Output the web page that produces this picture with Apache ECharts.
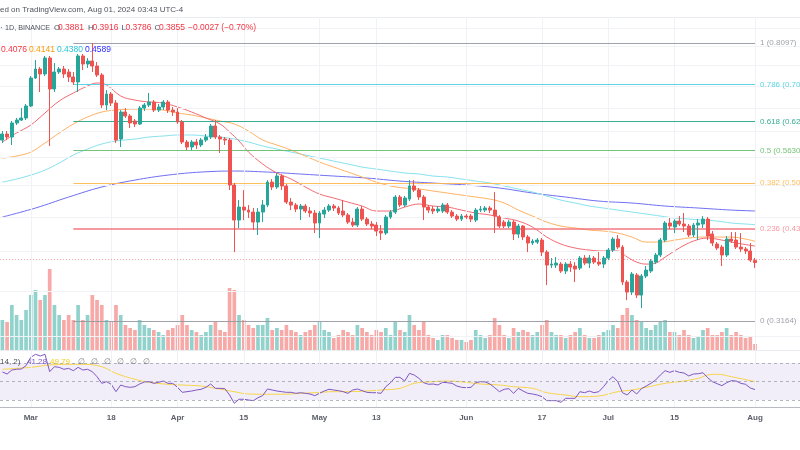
<!DOCTYPE html>
<html><head><meta charset="utf-8">
<script src="https://cdn.jsdelivr.net/npm/echarts@6/dist/echarts.min.js"></script>
<style>html,body{margin:0;padding:0;background:#fff}#c{width:800px;height:450px}</style>
</head><body><div id="c"></div>
<script>
// ---------- categories (daily, Feb 24 2024 .. Aug 10 2024) ----------
const startDate = Date.UTC(2024, 1, 24);
const nCats = 169;
const categories = [];
for (let i = 0; i < nCats; i++) categories.push(new Date(startDate + i * 86400000).toISOString().slice(0, 10));

const tickLabels = {'2024-03-01':'Mar','2024-03-18':'18','2024-04-01':'Apr','2024-04-15':'15','2024-05-01':'May','2024-05-13':'13','2024-06-01':'Jun','2024-06-17':'17','2024-07-01':'Jul','2024-07-15':'15','2024-08-01':'Aug'};

// ---------- OHLC [open, close, low, high] ----------
const ohlc = [
[0.5832,0.5952,0.5774,0.6012],[0.5952,0.5892,0.5832,0.6012],[0.5892,0.6178,0.5735,0.6219],[0.6178,0.6240,0.6136,0.6283],[0.6240,0.6283,0.6219,0.6498],
[0.6283,0.6543,0.6240,0.6587],[0.6543,0.7192,0.6521,0.7241],[0.7192,0.7414,0.7168,0.7642],[0.7414,0.7291,0.6860,0.7465],[0.7291,0.7695,0.7241,0.7748],
[0.7695,0.6930,0.5716,0.7748],[0.6930,0.7340,0.6860,0.7566],[0.7340,0.7414,0.7291,0.7465],[0.7414,0.7291,0.7192,0.7490],[0.7340,0.7217,0.7096,0.7414],
[0.7217,0.7096,0.7025,0.7340],[0.7096,0.7748,0.6860,0.7801],[0.7748,0.7541,0.7389,0.7801],[0.7541,0.7617,0.7440,0.7695],[0.7617,0.7490,0.7340,0.8097],
[0.7490,0.7266,0.7217,0.7591],[0.7266,0.6565,0.6498,0.7315],[0.6565,0.6814,0.6454,0.6906],[0.6814,0.6609,0.6543,0.6860],[0.6609,0.5832,0.5774,0.6676],
[0.5852,0.6411,0.5696,0.6454],[0.6411,0.6326,0.6283,0.6498],[0.6326,0.6178,0.6074,0.6368],[0.6219,0.6157,0.6094,0.6261],[0.6157,0.6498,0.6136,0.6543],
[0.6498,0.6565,0.6433,0.6609],[0.6565,0.6632,0.6521,0.6837],[0.6632,0.6454,0.6411,0.6676],[0.6454,0.6521,0.6411,0.6587],[0.6521,0.6632,0.6454,0.6676],
[0.6632,0.6454,0.6390,0.6676],[0.6454,0.6411,0.6326,0.6521],[0.6411,0.6198,0.6157,0.6498],[0.6198,0.5793,0.5754,0.6240],[0.5793,0.5696,0.5638,0.5832],
[0.5696,0.5793,0.5638,0.5832],[0.5793,0.5735,0.5657,0.5852],[0.5735,0.5832,0.5696,0.5872],[0.5832,0.5892,0.5793,0.5952],[0.5892,0.6115,0.5852,0.6157],
[0.6115,0.5892,0.5852,0.6240],[0.5892,0.5852,0.5582,0.5932],[0.5852,0.5832,0.5735,0.5892],[0.5832,0.5010,0.4925,0.5872],[0.5010,0.4450,0.3994,0.5043],
[0.4450,0.4650,0.4332,0.4761],[0.4650,0.4603,0.4450,0.4925],[0.4603,0.4572,0.4481,0.4682],[0.4572,0.4420,0.4302,0.4635],[0.4420,0.4572,0.4231,0.4635],
[0.4572,0.4682,0.4420,0.4761],[0.4682,0.5060,0.4650,0.5094],[0.5060,0.4976,0.4925,0.5112],[0.4976,0.5164,0.4942,0.5217],[0.5164,0.4993,0.4925,0.5199],
[0.4993,0.4729,0.4698,0.5026],[0.4729,0.4682,0.4603,0.4794],[0.4682,0.4619,0.4572,0.4714],[0.4619,0.4666,0.4450,0.4698],[0.4666,0.4588,0.4557,0.4698],
[0.4588,0.4557,0.4496,0.4650],[0.4557,0.4406,0.4259,0.4603],[0.4406,0.4557,0.4188,0.4588],[0.4542,0.4603,0.4481,0.4650],[0.4603,0.4666,0.4572,0.4698],
[0.4666,0.4635,0.4588,0.4698],[0.4635,0.4557,0.4527,0.4666],[0.4588,0.4527,0.4496,0.4761],[0.4527,0.4420,0.4391,0.4557],[0.4420,0.4376,0.4346,0.4481],
[0.4376,0.4619,0.4346,0.4650],[0.4619,0.4465,0.4435,0.4666],[0.4465,0.4391,0.4361,0.4496],[0.4391,0.4361,0.4317,0.4435],[0.4376,0.4288,0.4216,0.4420],
[0.4288,0.4259,0.4159,0.4376],[0.4259,0.4496,0.4231,0.4527],[0.4496,0.4572,0.4465,0.4603],[0.4572,0.4810,0.4542,0.4843],[0.4810,0.4682,0.4650,0.4843],
[0.4682,0.4794,0.4650,0.4827],[0.4777,0.4993,0.4745,0.5094],[0.4993,0.4925,0.4892,0.5094],[0.4925,0.4810,0.4761,0.4959],[0.4810,0.4650,0.4450,0.4843],
[0.4650,0.4603,0.4557,0.4682],[0.4619,0.4588,0.4542,0.4666],[0.4588,0.4619,0.4557,0.4666],[0.4588,0.4682,0.4557,0.4714],[0.4682,0.4572,0.4542,0.4714],
[0.4572,0.4511,0.4481,0.4603],[0.4511,0.4465,0.4435,0.4542],[0.4465,0.4511,0.4435,0.4542],[0.4511,0.4496,0.4465,0.4542],[0.4511,0.4465,0.4420,0.4542],
[0.4450,0.4603,0.4420,0.4635],[0.4603,0.4619,0.4572,0.4666],[0.4603,0.4635,0.4572,0.4666],[0.4635,0.4603,0.4557,0.4666],[0.4603,0.4511,0.4259,0.4892],
[0.4496,0.4361,0.4332,0.4527],[0.4420,0.4361,0.4332,0.4450],[0.4361,0.4420,0.4332,0.4450],[0.4420,0.4245,0.4159,0.4450],[0.4245,0.4361,0.4188,0.4391],
[0.4361,0.4202,0.4159,0.4376],[0.4202,0.4118,0.3994,0.4231],[0.4118,0.4145,0.4090,0.4173],[0.4131,0.4159,0.4104,0.4188],[0.4159,0.3994,0.3941,0.4188],
[0.3994,0.3822,0.3572,0.4021],[0.3822,0.3835,0.3784,0.3914],[0.3822,0.3848,0.3784,0.3927],[0.3835,0.3746,0.3721,0.3861],[0.3746,0.3835,0.3708,0.3861],
[0.3835,0.3796,0.3733,0.3874],[0.3810,0.3771,0.3609,0.3861],[0.3784,0.3914,0.3758,0.3941],[0.3914,0.3848,0.3822,0.3954],[0.3848,0.3914,0.3784,0.3954],
[0.3914,0.3861,0.3835,0.3941],[0.3861,0.3835,0.3810,0.3994],[0.3835,0.3914,0.3784,0.3941],[0.3914,0.4021,0.3887,0.4049],[0.4021,0.4173,0.3994,0.4202],
[0.4173,0.4062,0.4035,0.4231],[0.4062,0.3609,0.3572,0.4090],[0.3609,0.3489,0.3395,0.3633],[0.3489,0.3708,0.3454,0.3733],[0.3696,0.3454,0.3418,0.3721],
[0.3454,0.3683,0.3305,0.3708],[0.3683,0.3758,0.3658,0.3810],[0.3746,0.3874,0.3721,0.3900],[0.3861,0.3954,0.3835,0.3981],[0.3954,0.4159,0.3927,0.4188],
[0.4159,0.4406,0.4131,0.4435],[0.4406,0.4361,0.4317,0.4481],[0.4346,0.4435,0.4259,0.4465],[0.4435,0.4391,0.4361,0.4511],[0.4391,0.4361,0.4273,0.4557],
[0.4361,0.4231,0.4202,0.4391],[0.4231,0.4376,0.4202,0.4406],[0.4376,0.4406,0.4159,0.4465],[0.4391,0.4465,0.4332,0.4511],[0.4465,0.4216,0.4159,0.4496],
[0.4245,0.4118,0.4076,0.4288],[0.4104,0.4049,0.4021,0.4131],[0.4062,0.3954,0.3810,0.4090],[0.3954,0.4173,0.3927,0.4216],[0.4173,0.4145,0.4118,0.4273],
[0.4159,0.4062,0.4035,0.4273],[0.4062,0.4035,0.3994,0.4259],[0.4035,0.4008,0.3968,0.4062],[0.4008,0.3887,0.3861,0.4118],[0.3881,0.3855,0.3786,0.3916]
];

// ---------- volume (millions) ----------
const volumes = [
600,560,900,700,600,800,1100,1200,1000,1100,
1620,900,700,600,700,600,900,600,700,1100,
1000,900,600,560,900,700,500,440,400,600,
500,440,400,360,300,400,440,500,700,500,
400,360,300,360,500,560,400,360,1240,1200,
700,600,500,440,500,500,640,400,440,400,
500,400,360,300,360,400,500,560,400,360,
240,300,400,360,300,500,440,360,300,400,
360,440,300,560,400,360,700,500,400,560,
300,240,200,300,300,240,200,200,160,200,
400,300,240,300,640,500,300,240,440,360,
400,360,300,360,500,600,360,300,300,240,
300,360,440,300,240,240,300,360,400,500,
440,700,840,700,600,560,440,400,500,560,
600,360,360,300,400,300,240,280,400,440,
300,300,360,440,300,360,300,240,280,120
];

// ---------- moving averages [candle index, value] ----------
const maRed = [[0,0.5793],[3,0.5972],[6,0.6136],[9,0.6390],[12,0.6654],[15,0.6837],[18,0.7001],[20,0.7072],[22,0.7025],[25,0.6768],[28,0.6676],[31,0.6632],[34,0.6609],[37,0.6521],[40,0.6411],[43,0.6283],[46,0.6157],[48,0.5992],[50,0.5813],[52,0.5600],[55,0.5378],[58,0.5217],[61,0.5112],[64,0.4976],[67,0.4859],[70,0.4794],[73,0.4729],[76,0.4666],[79,0.4588],[82,0.4588],[85,0.4650],[88,0.4698],[91,0.4666],[94,0.4650],[97,0.4603],[100,0.4557],[103,0.4527],[106,0.4481],[109,0.4435],[112,0.4346],[115,0.4202],[118,0.4104],[121,0.4049],[124,0.4021],[127,0.4008],[130,0.4008],[132,0.3927],[134,0.3861],[136,0.3835],[138,0.3848],[140,0.3927],[143,0.4049],[146,0.4145],[149,0.4188],[152,0.4159],[155,0.4118],[159,0.4076]];
const maOrange = [[0,0.5488],[3,0.5525],[6,0.5600],[9,0.5774],[12,0.5972],[15,0.6157],[18,0.6304],[21,0.6411],[24,0.6454],[28,0.6476],[31,0.6476],[34,0.6454],[37,0.6390],[40,0.6347],[43,0.6283],[46,0.6219],[49,0.6157],[52,0.6012],[55,0.5832],[58,0.5735],[61,0.5638],[64,0.5525],[67,0.5414],[70,0.5323],[73,0.5234],[76,0.5147],[79,0.5060],[82,0.4993],[85,0.4959],[88,0.4942],[91,0.4909],[94,0.4876],[97,0.4843],[100,0.4810],[103,0.4777],[106,0.4714],[109,0.4603],[112,0.4511],[115,0.4420],[118,0.4361],[121,0.4332],[124,0.4302],[127,0.4288],[130,0.4259],[133,0.4202],[136,0.4131],[139,0.4131],[142,0.4159],[145,0.4188],[148,0.4202],[151,0.4202],[154,0.4202],[157,0.4173],[159,0.4141]];
const maCyan = [[0,0.5060],[3,0.5112],[6,0.5181],[9,0.5269],[12,0.5396],[15,0.5544],[18,0.5657],[21,0.5754],[24,0.5813],[28,0.5852],[31,0.5892],[34,0.5912],[37,0.5932],[40,0.5932],[43,0.5912],[46,0.5892],[49,0.5852],[52,0.5793],[55,0.5716],[58,0.5657],[61,0.5600],[64,0.5544],[67,0.5488],[70,0.5432],[73,0.5378],[76,0.5323],[79,0.5287],[82,0.5252],[85,0.5217],[88,0.5199],[91,0.5164],[94,0.5147],[97,0.5112],[100,0.5077],[103,0.5043],[106,0.4993],[109,0.4942],[112,0.4892],[115,0.4827],[118,0.4761],[121,0.4714],[124,0.4666],[127,0.4635],[130,0.4603],[133,0.4572],[136,0.4542],[139,0.4511],[142,0.4481],[145,0.4465],[148,0.4450],[151,0.4435],[154,0.4406],[157,0.4391],[159,0.4380]];
const maBlue = [[0,0.4496],[7,0.4635],[14,0.4810],[21,0.4976],[28,0.5094],[35,0.5181],[42,0.5234],[49,0.5252],[56,0.5234],[63,0.5199],[70,0.5164],[77,0.5129],[84,0.5077],[91,0.5043],[98,0.5010],[105,0.4959],[112,0.4876],[119,0.4810],[126,0.4745],[133,0.4714],[140,0.4666],[147,0.4635],[154,0.4603],[159,0.4589]];

// ---------- RSI ----------
const rsiVals = [
60.3,58.1,62.4,63.2,63.5,67.1,76.1,79.4,77.6,79.4,
60.6,66.0,65.3,63.2,64.2,61.7,65.3,62.4,63.2,60.6,
55.2,48.0,49.8,47.0,39.0,46.2,44.4,43.7,44.4,47.3,
49.5,49.8,48.0,49.1,50.5,48.0,48.0,43.7,38.3,39.0,
39.7,40.8,41.6,43.7,47.3,42.6,42.6,42.2,35.4,26.4,
30.8,30.8,30.0,29.3,32.5,34.7,41.9,40.8,39.7,39.0,
38.3,38.3,37.2,37.9,37.2,36.5,34.7,37.2,39.7,41.6,
40.8,40.1,39.0,37.2,40.8,41.9,40.1,38.3,37.9,37.9,
37.2,44.4,48.7,54.5,54.5,50.5,58.8,57.0,53.4,48.7,
47.0,47.3,46.2,49.1,48.7,48.0,45.1,43.7,43.3,43.7,
48.7,49.8,49.5,47.3,43.3,39.0,41.6,42.2,37.2,42.6,
39.7,37.2,36.5,35.4,33.6,29.3,29.3,29.3,27.5,31.8,
31.8,31.8,39.0,37.9,39.7,37.9,39.0,44.4,50.9,55.2,
49.8,37.9,35.4,40.8,36.5,42.2,45.1,48.0,51.6,57.0,
61.7,59.9,61.7,59.9,59.2,56.0,58.1,58.4,59.5,54.1,
49.8,47.6,45.5,48.7,50.9,50.5,48.0,47.0,43.0,41.28
];
const rsiMa = [[0,63.2],[6,65.3],[10,67.8],[14,68.6],[17,68.6],[21,66.0],[24,58.8],[28,52.4],[31,49.1],[35,47.0],[38,46.2],[42,45.1],[45,42.6],[49,39.0],[52,36.5],[56,36.2],[59,36.2],[63,37.2],[66,37.9],[70,39.0],[73,39.0],[77,39.7],[80,40.8],[84,42.6],[87,48.0],[91,49.8],[94,50.5],[98,49.1],[101,47.3],[105,46.2],[108,44.4],[112,42.6],[115,37.9],[119,35.4],[122,33.6],[126,34.3],[130,39.0],[133,40.8],[136,43.7],[140,48.0],[143,49.8],[147,53.4],[149,57.0],[151,57.8],[154,55.2],[159,49.79]];

// ---------- Fibonacci retracement ----------
const fibLevels = ['1','0.786','0.618','0.5','0.382','0.236','0'];
const fibPrices = [0.8097,0.7041,0.6213,0.5630,0.5048,0.4328,0.3164];
const fibColors = ['#9598a1','#4dd0e1','#22a38a','#66bb6a','#ffb74d','#f26d78','#9598a1'];
const fibStartIdx = 15, fibEndIdx = 159;

const gridPrices = [0.30,0.35,0.40,0.45,0.50,0.55,0.60,0.65,0.70,0.75,0.80,0.85];
const lastClose = 0.3855;

// ---------- chart ----------
const UP = '#26a69a', DOWN = '#ef5350';
const FONT = 'Arial, "Liberation Sans", sans-serif';
const pair = arr => arr.map(p => [categories[p[0]], p[1]]);
const tickDates = Object.keys(tickLabels);
const chart = echarts.init(document.getElementById('c'), null, {renderer: 'canvas'});

const baseX = (gi, extra) => Object.assign({
  type: 'category', gridIndex: gi, data: categories, boundaryGap: true,
  axisTick: {show: false}, axisLabel: {show: false}, splitLine: {show: false},
  axisLine: {show: false}
}, extra || {});

function txt(x, y, text, fill, size, weight) {
  return {type: 'text', x: x, y: y, silent: true, z: 100,
    style: {text: text, fill: fill, font: (weight || 'normal') + ' ' + (size || 8) + 'px ' + FONT, verticalAlign: 'middle'}};
}

const option = {
  animation: false,
  backgroundColor: '#ffffff',
  grid: [
    {left: 0, right: -2, top: 17, height: 333},
    {left: 0, right: -2, top: 250, height: 100},
    {left: 0, right: -2, top: 351, height: 56}
  ],
  xAxis: [
    baseX(0, {position: 'top', axisLine: {show: true, lineStyle: {color: '#e9ecf1'}}}),
    baseX(1, {axisLine: {show: true, lineStyle: {color: '#e9ecf1'}}}),
    baseX(2, {axisLine: {show: true, lineStyle: {color: '#b8bbc3'}},
      axisLabel: {show: true, interval: (i, v) => tickLabels[v] !== undefined,
        formatter: v => tickLabels[v] || '', fontSize: 8, fontWeight: 'bold', color: '#5d606b', margin: 7, fontFamily: FONT}})
  ],
  yAxis: [
    {type: 'log', logBase: 10, gridIndex: 0, min: 0.28686, max: 0.88393, show: false, splitLine: {show: false}},
    {type: 'value', gridIndex: 1, min: 0, max: 2000, show: false, splitLine: {show: false}},
    {type: 'value', gridIndex: 2, min: 22.43, max: 82.97, show: false, splitLine: {show: false}}
  ],
  series: [
    // price gridlines
    {type: 'line', xAxisIndex: 0, yAxisIndex: 0, data: [], z: 0, silent: true,
      markLine: {silent: true, symbol: 'none', animation: false, label: {show: false},
        lineStyle: {color: '#f0f2f6', width: 1, type: 'solid'},
        data: gridPrices.map(p => ({yAxis: p})).concat(tickDates.map(d => ({xAxis: d})))}},
    // volume
    {type: 'bar', name: 'Volume', xAxisIndex: 1, yAxisIndex: 1, barWidth: '78%', z: 1,
      data: volumes.map((v, i) => ({value: v, itemStyle: {color: ohlc[i][1] >= ohlc[i][0] ? 'rgba(38,166,154,0.5)' : 'rgba(239,83,80,0.5)'}}))},
    // fib lines + last price line
    {type: 'line', xAxisIndex: 0, yAxisIndex: 0, data: [], z: 2, silent: true,
      markLine: {silent: true, symbol: 'none', animation: false,
        data: fibLevels.map((f, k) => [
          {coord: [categories[fibStartIdx], fibPrices[k]],
           lineStyle: {color: fibColors[k], width: k === 5 ? 2 : 1, type: 'solid', opacity: k === 5 ? 0.7 : 0.9},
           label: {show: true, position: 'end', distance: 5, formatter: f + ' (' + fibPrices[k].toFixed(4) + ')',
             color: fibColors[k], fontSize: 8, fontFamily: FONT}},
          {coord: [categories[fibEndIdx], fibPrices[k]]}
        ]).concat([{yAxis: lastClose, lineStyle: {color: 'rgba(242,54,69,0.45)', type: [1, 2], width: 1}, label: {show: false}}])}},
    // moving averages
    {type: 'line', name: 'MA200', xAxisIndex: 0, yAxisIndex: 0, data: pair(maBlue), showSymbol: false, smooth: 0.4, z: 3, lineStyle: {color: '#6f6ff2', width: 1}},
    {type: 'line', name: 'MA100', xAxisIndex: 0, yAxisIndex: 0, data: pair(maCyan), showSymbol: false, smooth: 0.4, z: 3, lineStyle: {color: '#86e2ee', width: 1}},
    {type: 'line', name: 'MA50', xAxisIndex: 0, yAxisIndex: 0, data: pair(maOrange), showSymbol: false, smooth: 0.4, z: 3, lineStyle: {color: '#ffb163', width: 1}},
    {type: 'line', name: 'MA20', xAxisIndex: 0, yAxisIndex: 0, data: pair(maRed), showSymbol: false, smooth: 0.4, z: 3, lineStyle: {color: '#f36a72', width: 1}},
    // candles
    {type: 'candlestick', name: 'ADAUSDT', xAxisIndex: 0, yAxisIndex: 0, data: ohlc, barWidth: 3.4, z: 5,
      itemStyle: {color: UP, color0: DOWN, borderColor: UP, borderColor0: DOWN, borderWidth: 1}},
    // RSI pane
    {type: 'line', xAxisIndex: 2, yAxisIndex: 2, data: [], z: 0, silent: true,
      markArea: {silent: true, itemStyle: {color: 'rgba(126,87,194,0.1)'}, data: [[{yAxis: 30}, {yAxis: 70}]]},
      markLine: {silent: true, symbol: 'none', animation: false, label: {show: false},
        data: [70, 50, 30].map(v => ({yAxis: v, lineStyle: {color: '#9598a1', type: [3, 3], width: 1, opacity: 0.7}}))
          .concat(tickDates.map(d => ({xAxis: d, lineStyle: {color: '#eef1f6', type: 'solid', width: 1}})))}},
    {type: 'line', name: 'RSI MA', xAxisIndex: 2, yAxisIndex: 2, data: pair(rsiMa), showSymbol: false, smooth: 0.4, z: 3, lineStyle: {color: '#f7d54a', width: 1}},
    {type: 'line', name: 'RSI', xAxisIndex: 2, yAxisIndex: 2, data: rsiVals.map((v, i) => [categories[i], v]), showSymbol: false, z: 4, lineStyle: {color: '#7e57c2', width: 1}}
  ],
  graphic: [
    txt(0, 10, 'ed on TradingView.com, Aug 01, 2024 03:43 UTC-4', '#50535e', 8),
    txt(0, 28, '\u00b7', '#50535e', 8),
    txt(5, 28, '1D, BINANCE', '#50535e', 7.2),
    txt(54, 28, 'O', '#50535e', 8), txt(58, 28, '0.3881', '#f23645', 8.5),
    txt(88, 28, 'H', '#50535e', 8), txt(92.5, 28, '0.3916', '#f23645', 8.5),
    txt(121.5, 28, 'L', '#50535e', 8), txt(125.5, 28, '0.3786', '#f23645', 8.5),
    txt(154.5, 28, 'C', '#50535e', 8), txt(159, 28, '0.3855', '#f23645', 8.5),
    txt(188, 28, '\u22120.0027 (\u22120.70%)', '#f23645', 8.5),
    txt(1, 50, '0.4076', '#f23645', 8.5), txt(29, 50, '0.4141', '#ff9800', 8.5),
    txt(57, 50, '0.4380', '#26c6da', 8.5), txt(85, 50, '0.4589', '#2b2bff', 8.5),
    txt(0, 362, '14, 2)', '#50535e', 8), txt(27, 362, '41.28', '#7e57c2', 8), txt(50, 362, '49.79', '#f2cc1f', 8),
    txt(78, 362, '\u2205', '#787b86', 8), txt(91, 362, '\u2205', '#787b86', 8), txt(104, 362, '\u2205', '#787b86', 8),
    txt(117, 362, '\u2205', '#787b86', 8), txt(130, 362, '\u2205', '#787b86', 8), txt(143, 362, '\u2205', '#787b86', 8)
  ]
};
chart.setOption(option);
</script></body></html>
